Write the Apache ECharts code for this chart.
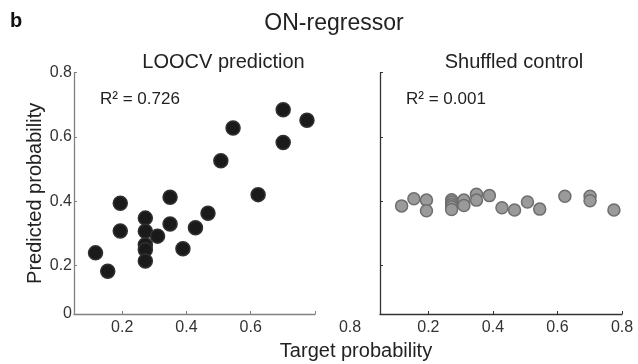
<!DOCTYPE html>
<html>
<head>
<meta charset="utf-8">
<script src="https://cdn.jsdelivr.net/npm/echarts@6/dist/echarts.min.js"></script>
<style>html,body{margin:0;padding:0;background:#fff}#c{width:638px;height:364px}</style>
</head>
<body>
<div id="c"></div>
<script>
// Target probabilities
var targetX = [0.117, 0.155, 0.194, 0.194, 0.272, 0.272, 0.272, 0.272, 0.272, 0.310, 0.349, 0.349, 0.389, 0.428, 0.467, 0.507, 0.545, 0.623, 0.701, 0.701, 0.775];
// LOOCV predicted probabilities
var loocvY = [0.240, 0.183, 0.394, 0.308, 0.348, 0.307, 0.265, 0.250, 0.215, 0.292, 0.413, 0.330, 0.253, 0.318, 0.363, 0.526, 0.628, 0.421, 0.685, 0.583, 0.652];
// Shuffled control
var shuffledX = [0.117, 0.155, 0.194, 0.194, 0.272, 0.272, 0.272, 0.272, 0.272, 0.310, 0.310, 0.349, 0.349, 0.389, 0.428, 0.467, 0.507, 0.545, 0.623, 0.701, 0.701, 0.775];
var shuffledY = [0.386, 0.408, 0.404, 0.371, 0.405, 0.398, 0.390, 0.383, 0.375, 0.404, 0.387, 0.422, 0.404, 0.418, 0.380, 0.373, 0.398, 0.376, 0.416, 0.416, 0.402, 0.373];

var xTicks = [0.2, 0.4, 0.6, 0.8];
var xLabelsLeft = [0.2, 0.4, 0.6];
var xLabelsRight = [0.2, 0.4, 0.6, 0.8];
var yTicks = [0.2, 0.4, 0.6, 0.8];
var yLabels = [0.05, 0.2, 0.4, 0.6, 0.8];
var yLabelText = ['0', '0.2', '0.4', '0.6', '0.8'];

var mainTitle = 'ON-regressor';
var panelLetter = 'b';
var leftTitle = 'LOOCV prediction';
var rightTitle = 'Shuffled control';
var leftR2 = 'R² = 0.726';
var rightR2 = 'R² = 0.001';
var xName = 'Target probability';
var yName = 'Predicted probability';
var strayXLabel = '0.8';

function pairs(xs, ys) { return xs.map(function (x, i) { return [x, ys[i]]; }); }

var FONT = '"Liberation Sans", Arial, Helvetica, sans-serif';
var chart = echarts.init(document.getElementById('c'), null, { renderer: 'canvas' });

function xAxisFor(idx, labels, lineColor) {
  return {
    gridIndex: idx, type: 'value', min: 0.05, max: 0.8,
    axisLine: { show: true, onZero: false, lineStyle: { color: lineColor, width: 1.3 } },
    axisTick: { show: true, inside: true, length: 3, customValues: xTicks, lineStyle: { color: lineColor } },
    axisLabel: { customValues: labels, color: '#333', fontFamily: FONT, fontSize: 16, margin: 6,
      formatter: function (v) { return String(Math.round(v * 10) / 10); } },
    splitLine: { show: false }
  };
}

chart.setOption({
  animation: false,
  backgroundColor: '#fff',
  textStyle: { fontFamily: FONT },
  grid: [
    { left: 74, right: 323, top: 72.7, bottom: 50 },
    { left: 380, right: 16, top: 72.7, bottom: 50 }
  ],
  xAxis: [
    xAxisFor(0, xLabelsLeft, '#808080'),
    xAxisFor(1, xLabelsRight, '#333')
  ],
  yAxis: [
    {
      gridIndex: 0, type: 'value', min: 0.05, max: 0.8,
      name: yName, nameLocation: 'middle', nameGap: 22,
      nameTextStyle: { color: '#222', fontSize: 20, fontFamily: FONT },
      axisLine: { show: true, onZero: false, lineStyle: { color: '#808080', width: 1.3 } },
      axisTick: { show: true, inside: true, length: 3, customValues: yTicks, lineStyle: { color: '#808080' } },
      axisLabel: { customValues: yLabels, color: '#333', fontFamily: FONT, fontSize: 16, margin: 2,
        formatter: function (v) { var i = yLabels.indexOf(v); return i >= 0 ? yLabelText[i] : ''; } },
      splitLine: { show: false }
    },
    {
      gridIndex: 1, type: 'value', min: 0.05, max: 0.8,
      axisLine: { show: true, onZero: false, lineStyle: { color: '#333', width: 1.3 } },
      axisTick: { show: true, inside: true, length: 3, customValues: yTicks, lineStyle: { color: '#333' } },
      axisLabel: { show: false },
      splitLine: { show: false }
    }
  ],
  series: [
    {
      type: 'scatter', xAxisIndex: 0, yAxisIndex: 0, data: pairs(targetX, loocvY),
      symbolSize: 14,
      itemStyle: { color: '#1a1a1a', borderColor: '#303030', borderWidth: 1.5, opacity: 1 }
    },
    {
      type: 'scatter', xAxisIndex: 1, yAxisIndex: 1, data: pairs(shuffledX, shuffledY),
      symbolSize: 12,
      itemStyle: { color: '#9a9a9a', borderColor: '#6e6e6e', borderWidth: 1.5, opacity: 1 }
    }
  ],
  graphic: [
    { type: 'text', style: { text: panelLetter, x: 10, y: 21, textVerticalAlign: 'middle', font: 'bold 20px ' + FONT, fill: '#111' } },
    { type: 'text', style: { text: mainTitle, x: 334, y: 24, textAlign: 'center', textVerticalAlign: 'middle', font: '23px ' + FONT, fill: '#222' } },
    { type: 'text', style: { text: leftTitle, x: 223.5, y: 62, textAlign: 'center', textVerticalAlign: 'middle', font: '20px ' + FONT, fill: '#222' } },
    { type: 'text', style: { text: rightTitle, x: 514, y: 62, textAlign: 'center', textVerticalAlign: 'middle', font: '20px ' + FONT, fill: '#222' } },
    { type: 'text', style: { text: leftR2, x: 100, y: 99, textVerticalAlign: 'middle', font: '17px ' + FONT, fill: '#222' } },
    { type: 'text', style: { text: rightR2, x: 406, y: 99, textVerticalAlign: 'middle', font: '17px ' + FONT, fill: '#222' } },
    { type: 'text', style: { text: strayXLabel, x: 350, y: 328, textAlign: 'center', textVerticalAlign: 'middle', font: '16px ' + FONT, fill: '#333' } },
    { type: 'text', style: { text: xName, x: 356, y: 351, textAlign: 'center', textVerticalAlign: 'middle', font: '20px ' + FONT, fill: '#222' } }
  ]
});
</script>
</body>
</html>
